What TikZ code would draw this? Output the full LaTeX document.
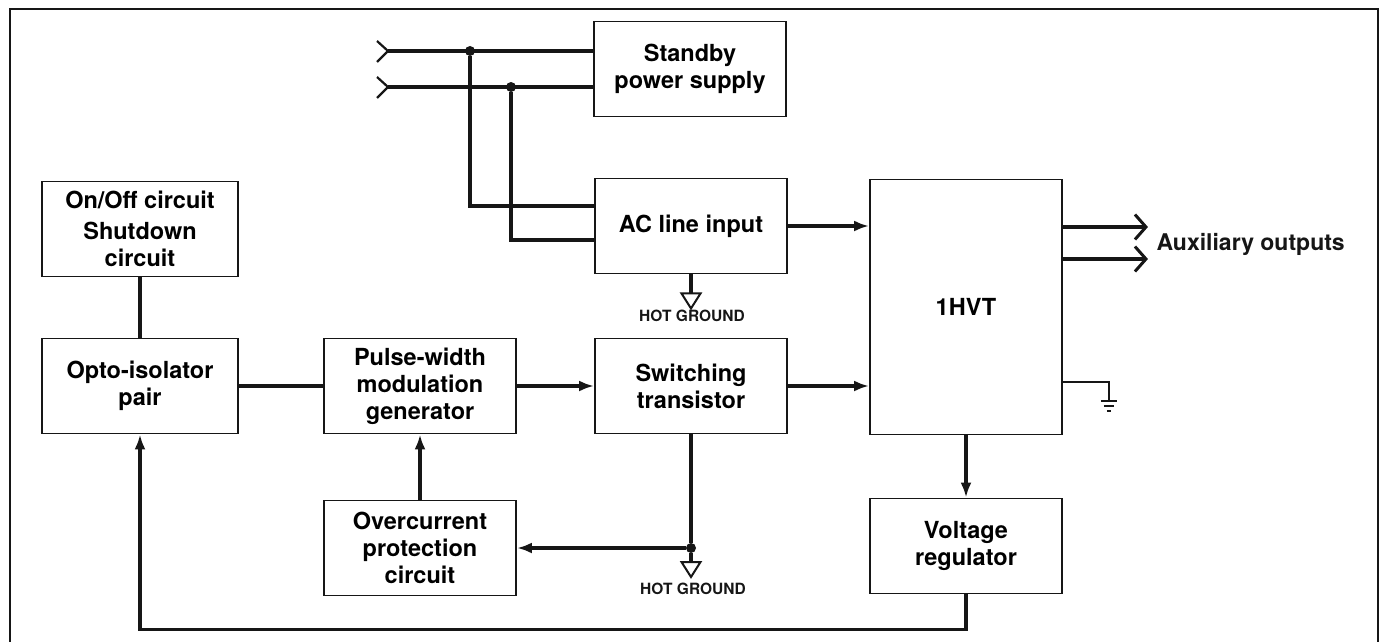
\documentclass[tikz,border=0pt]{standalone}
\usepackage{fontspec}
\setsansfont{TeX Gyre Heros}
\usetikzlibrary{arrows.meta, calc}
\definecolor{ink}{RGB}{22,22,22}

\begin{document}
\begin{tikzpicture}[
  x=1pt, y=-1pt,
  blk/.style={draw=ink, line width=1.9pt, fill=white, inner sep=2pt,
              font=\sffamily\bfseries\fontsize{23.5}{27}\selectfont, align=center,
              minimum width=192pt, minimum height=95pt},
  wire/.style={draw=ink, line width=3.6pt},
  flow/.style={wire, -{Latex[length=15pt, width=11pt]}},
  outflow/.style={wire, -{Straight Barb[length=11pt, width=25pt, line width=3pt]}},
  gndlbl/.style={font=\sffamily\bfseries\fontsize{15.5}{18}\selectfont, text=ink},
  auxlbl/.style={font=\sffamily\bfseries\fontsize{23}{27}\selectfont, text=ink},
  joint/.style={circle, fill=ink, inner sep=0pt, minimum size=10pt},
  hotgnd/.pic={\draw[draw=ink, line width=2pt, fill=white]
                 (-9.5,0) -- (9.5,0) -- (0,15) -- cycle;},
  earthgnd/.pic={\draw[draw=ink, line width=2.2pt]
                   (-8,0) -- (8,0) (-5,5) -- (5,5) (-2,10) -- (2,10);}]

  \useasboundingbox (0,0) rectangle (1383,642);
  \draw[draw=ink, line width=2.8pt] (10,642) -- (10,9) -- (1378,9) -- (1378,642);

  % --- mains side
  \node[blk] (stby) at (690,  69) {Standby\\power supply};
  \node[blk] (acin) at (691, 226) {AC line input};
  \coordinate (inA) at (388, 51);
  \coordinate (inB) at (388, 87);
  \node[joint] (jA) at (470, 51) {};
  \node[joint] (jB) at (511, 87) {};
  \draw[draw=ink, line width=2.2pt] (inA) ++(-11,-10) -- (inA) -- ++(-11,11);
  \draw[draw=ink, line width=2.2pt] (inB) ++(-11,-10) -- (inB) -- ++(-11,11);
  \draw[wire] (inA) -- (stby.west |- inA);
  \draw[wire] (inB) -- (stby.west |- inB);
  \draw[wire] (jA) |- ($(acin.west)+(0,-20)$);
  \draw[wire] (jB) |- ($(acin.west)+(0,14)$);
  \draw[wire] (acin.south) -- ++(0,19) pic {hotgnd};
  \node[gndlbl] (hg1) at (692, 316) {HOT GROUND};

  % --- control loop
  \node[blk, minimum width=196pt] (onoff) at (140, 229) {On/Off circuit\\[4pt]Shutdown\\circuit};
  \node[blk, minimum width=196pt] (opto)  at (140, 386) {Opto-isolator\\pair};
  \node[blk] (pwm) at (420, 386) {Pulse-width\\modulation\\generator};
  \node[blk] (sw)  at (691, 386) {Switching\\transistor};
  \node[blk] (ocp) at (420, 548) {Overcurrent\\protection\\circuit};
  \draw[wire] (onoff) -- (opto);
  \draw[wire] (opto) -- (pwm);
  \draw[flow] (pwm) -- (sw);
  \draw[flow] (ocp) -- (pwm);
  \node[joint] (jS) at (sw.south |- ocp.east) {};
  \draw[wire] (sw.south) -- (jS);
  \draw[flow] (jS) -- (ocp.east);
  \draw[wire] (jS) -- ++(0,14) pic {hotgnd};
  \node[gndlbl] (hg2) at (693, 589) {HOT GROUND};

  % --- transformer and outputs
  \node[blk, minimum height=255pt] (hvt) at (966, 307) {1HVT};
  \node[blk] (vreg) at (966, 546) {Voltage\\regulator};
  \draw[flow] (acin.east) -- (hvt.west |- acin.east);
  \draw[flow] (sw.east) -- (hvt.west |- sw.east);
  \draw[outflow] ($(hvt.east)+(0,-80)$) -- ++(85,0);
  \draw[outflow] ($(hvt.east)+(0,-48)$) -- ++(85,0);
  \node[auxlbl, anchor=west] (aux) at (1153, 244) {Auxiliary outputs};
  \draw[draw=ink, line width=2.8pt] ($(hvt.east)+(0,75)$) -| ++(46,19) pic {earthgnd};
  \draw[flow] (hvt) -- (vreg);
  \draw[flow] (vreg.south) -- ++(0,35) -| (opto.south);
\end{tikzpicture}
\end{document}
